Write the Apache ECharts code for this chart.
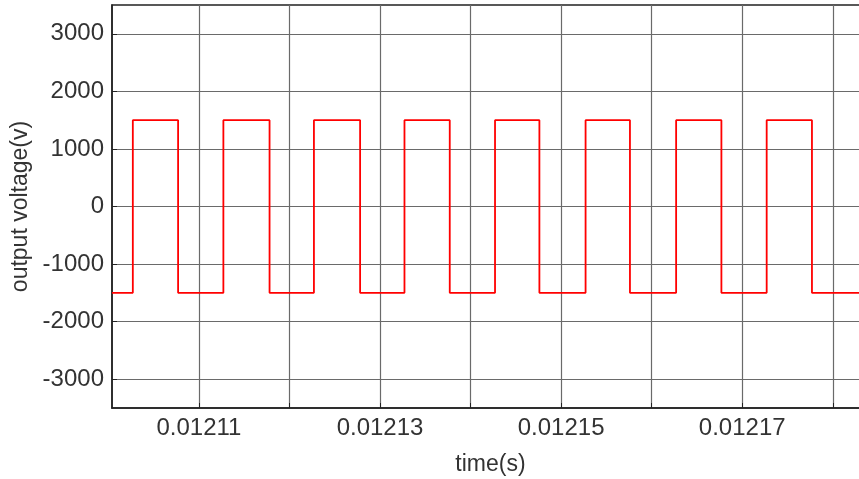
<!DOCTYPE html>
<html>
<head>
<meta charset="utf-8">
<title>output voltage</title>
<script src="https://cdn.jsdelivr.net/npm/echarts@6/dist/echarts.min.js"></script>
<style>
  html, body { margin: 0; padding: 0; background: #fff; }
  #outputVoltage { width: 859px; height: 479px; }
</style>
</head>
<body>
<div id="outputVoltage"></div>
<script>
// 时间范围 (s)
const startTime = 0.0121004
const endTime = 0.012184
const startLevel = -1500
// 每次跳变的时刻和跳变后的电压
const edgeTimes = [
  0.0121027, 0.0121077, 0.0121127, 0.0121178,
  0.0121227, 0.0121278, 0.0121327, 0.0121377,
  0.0121427, 0.0121476, 0.0121527, 0.0121576,
  0.0121627, 0.0121677, 0.0121727, 0.0121777
]
const edgeLevels = [
  1500, -1500, 1500, -1500,
  1500, -1500, 1500, -1500,
  1500, -1500, 1500, -1500,
  1500, -1500, 1500, -1500
]
// 刻度
const xTicks = [0.01211, 0.01212, 0.01213, 0.01214, 0.01215, 0.01216, 0.01217, 0.01218]
const xLabels = [0.01211, 0.01213, 0.01215, 0.01217]
const yTicks = [-3000, -2000, -1000, 0, 1000, 2000, 3000]

let points = [[startTime, startLevel]]
let level = startLevel
for (let i = 0; i < edgeTimes.length; i++) {
  points.push([edgeTimes[i], level])
  level = edgeLevels[i]
  points.push([edgeTimes[i], level])
}
points.push([endTime, level])

const fontFamily = 'Liberation Sans, Arial, sans-serif'
const textColor = '#333'

const chart = echarts.init(document.getElementById('outputVoltage'))
const option = {
  animation: false,
  grid: {
    left: 112,
    right: -10,
    top: 5,
    bottom: 71,
    outerBoundsMode: 'none',
    show: true,
    borderColor: '#222',
    borderWidth: 1.5
  },
  xAxis: {
    type: 'value',
    min: startTime,
    max: endTime,
    name: 'time(s)',
    nameLocation: 'middle',
    nameGap: 45,
    nameTextStyle: { color: textColor, fontSize: 23, fontFamily: fontFamily },
    axisLine: { show: true, onZero: false, lineStyle: { color: '#222', width: 1.5 } },
    axisTick: { inside: true, length: 5, customValues: xTicks, lineStyle: { color: '#222' } },
    axisLabel: {
      customValues: xLabels,
      margin: 8,
      color: textColor,
      fontSize: 24,
      fontFamily: fontFamily,
      formatter: v => v.toFixed(5)
    },
    splitLine: { show: true, lineStyle: { color: '#6a6a6a', width: 1.2 } }
  },
  yAxis: {
    type: 'value',
    min: -3500,
    max: 3500,
    name: 'output voltage(v)',
    nameLocation: 'middle',
    nameGap: 73,
    nameTextStyle: { color: textColor, fontSize: 23, fontFamily: fontFamily },
    axisLine: { show: true, onZero: false, lineStyle: { color: '#222', width: 1.5 } },
    axisTick: { inside: true, length: 5, customValues: yTicks, lineStyle: { color: '#222' } },
    axisLabel: {
      customValues: yTicks,
      margin: 8,
      color: textColor,
      fontSize: 24,
      fontFamily: fontFamily,
      formatter: v => String(v)
    },
    splitLine: { show: true, lineStyle: { color: '#6a6a6a', width: 1.2 } }
  },
  series: [
    {
      name: 'output voltage',
      type: 'line',
      showSymbol: false,
      data: points,
      lineStyle: { color: '#ff0000', width: 1.8 }
    }
  ]
}
chart.setOption(option)
window.addEventListener('resize', () => { chart.resize() })
</script>
</body>
</html>
